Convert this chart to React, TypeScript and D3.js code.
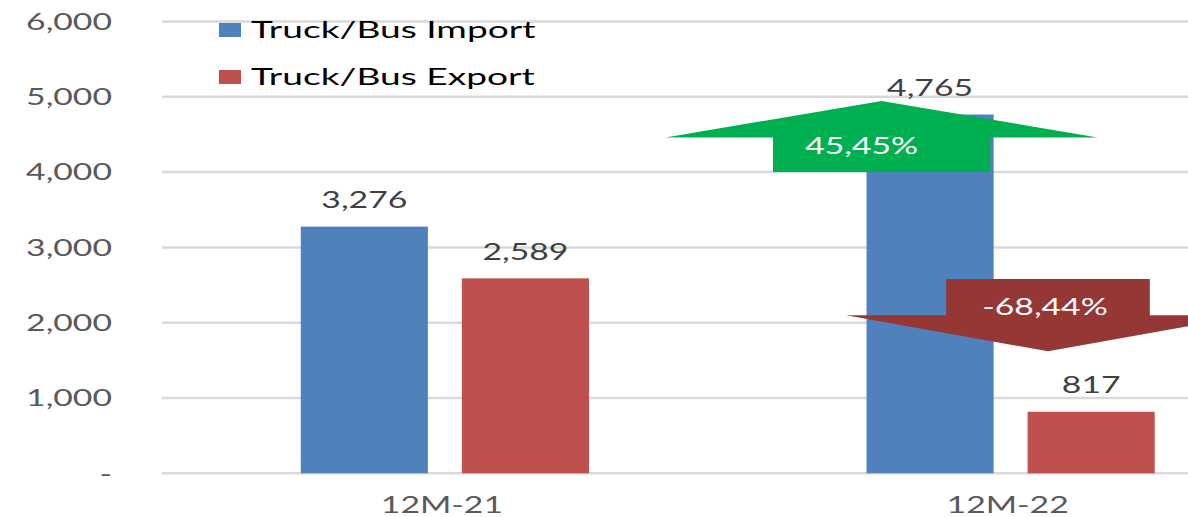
import React from "react";
import * as d3 from "d3";

const categories = ["12M-21", "12M-22"];
const seriesNames = ["Truck/Bus Import", "Truck/Bus Export"];
const importValues = [3276, 4765];
const exportValues = [2589, 817];
const yTicks = [0, 1000, 2000, 3000, 4000, 5000, 6000];
const yTickLabels = ["-", "1,000", "2,000", "3,000", "4,000", "5,000", "6,000"];
const changeLabels = ["45,45%", "-68,44%"];
// arrow annotations in data space: [tail, headBase, apex] values
const arrowValues = [
  [4000, 4460, 4944],
  [2580, 2100, 1620],
];

const W = 1188;
const H = 517;
const SX = 1.5;
const FONT = "Lato, 'Open Sans', sans-serif";
const COLORS = ["#4f81bd", "#c0504d"];
const ARROW_COLORS = ["#00b050", "#953735"];

function T({ x, y, anchor = "middle", fill = "#404040", size = 22.5, sx = SX, children }: any) {
  return (
    <text
      transform={`translate(${x},${y}) scale(${sx},1)`}
      textAnchor={anchor}
      fill={fill}
      fontSize={size}
      fontFamily={FONT}
    >
      {children}
    </text>
  );
}

export default function App() {
  const y = d3.scaleLinear().domain([0, 6000]).range([473.3, 21.5]);
  const x0 = d3.scaleBand<string>().domain(categories).range([162, 1293.5]).paddingInner(0).paddingOuter(0);
  const bw = x0.bandwidth();
  const x1 = d3
    .scaleBand<string>()
    .domain(seriesNames)
    .range([-bw * 0.2547, bw * 0.2547])
    .paddingInner(0.211);
  const series = [importValues, exportValues];

  // arrow horizontal geometry relative to 12M-22 band
  const arrowCenterFrac = [0.272, 0.566];
  const headHalfFrac = [0.382, 0.357];
  const bodyHalfFrac = [0.192, 0.18];
  const bandStart = x0("12M-22")!;

  const arrows = arrowValues.map((v, i) => {
    const cx = bandStart + bw * arrowCenterFrac[i];
    const hh = bw * headHalfFrac[i];
    const bh = bw * bodyHalfFrac[i];
    const yt = y(v[0]);
    const yb = y(v[1]);
    const ya = y(v[2]);
    const path = d3.path();
    path.moveTo(cx - bh, yt);
    path.lineTo(cx - bh, yb);
    path.lineTo(cx - hh, yb);
    path.lineTo(cx, ya);
    path.lineTo(cx + hh, yb);
    path.lineTo(cx + bh, yb);
    path.lineTo(cx + bh, yt);
    path.closePath();
    return { d: path.toString(), cx, yt, yb };
  });

  return (
    <svg
      width={W}
      height={H}
      style={{ position: "absolute", left: 0, top: 0, display: "block", background: "#fff" }}
    >
      <rect x={0} y={0} width={W} height={H} fill="#fff" />
      {yTicks.map((t, i) => (
        <g key={t}>
          <line x1={162} x2={W} y1={y(t)} y2={y(t)} stroke="#d9d9d9" strokeWidth={2.5} />
          <T x={112} y={y(t) + 8.3} anchor="end" fill="#595959">
            {yTickLabels[i]}
          </T>
        </g>
      ))}
      {categories.map((c, ci) => (
        <g key={c}>
          {seriesNames.map((s, si) => {
            const v = series[si][ci];
            const bx = x0(c)! + bw / 2 + x1(s)!;
            return (
              <g key={s}>
                <rect x={bx} y={y(v)} width={x1.bandwidth()} height={y(0) - y(v)} fill={COLORS[si]} />
                <T x={bx + x1.bandwidth() / 2} y={y(v) - 18.5}>
                  {d3.format(",")(v)}
                </T>
              </g>
            );
          })}
          <T x={x0(c)! + bw / 2 - 3} y={513} fill="#595959">
            {c}
          </T>
        </g>
      ))}
      {arrows.map((a, i) => (
        <g key={i}>
          <path d={a.d} fill={ARROW_COLORS[i]} />
          <T
            x={a.cx + (i === 0 ? -20 : -3)}
            y={i === 0 ? a.yt - (a.yt - a.yb) * 0.75 + 8 : a.yt + (a.yb - a.yt) * 0.78 + 8}
            fill="#ffffff"
          >
            {changeLabels[i]}
          </T>
        </g>
      ))}
      {seriesNames.map((s, i) => (
        <g key={s}>
          <rect x={219} y={23 + i * 47} width={22} height={14} fill={COLORS[i]} />
          <T x={251} y={38 + i * 47} anchor="start" fill="#000000" sx={1.65}>
            {s}
          </T>
        </g>
      ))}
    </svg>
  );
}
